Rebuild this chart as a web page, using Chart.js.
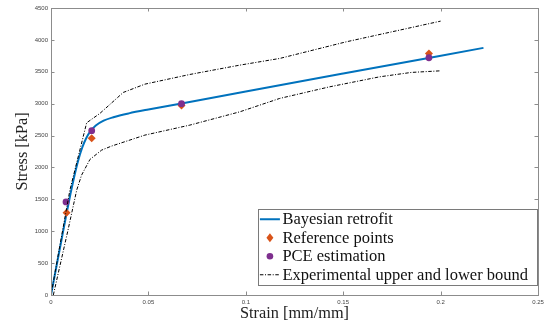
<!DOCTYPE html>
<html><head><meta charset="utf-8">
<script src="https://cdn.jsdelivr.net/npm/chart.js@4/dist/chart.umd.min.js"></script>
<style>html,body{margin:0;padding:0;background:#fff}#wrap{width:544px;height:325px;position:relative}</style>
</head><body><div id="wrap"><canvas id="c" width="544" height="325"></canvas></div>
<script>
// ---- data ----
const retrofitStrain = [0, 0.002, 0.004, 0.006, 0.008, 0.010, 0.012, 0.014, 0.016, 0.018, 0.020, 0.023, 0.027, 0.032, 0.040, 0.050, 0.067, 0.100, 0.150, 0.222];
const retrofitStress = [0, 321, 642, 963, 1279, 1585, 1867, 2113, 2309, 2454, 2557, 2656, 2733, 2787, 2848, 2909, 3004, 3191, 3472, 3875];
const refStrain = [0.008, 0.0209, 0.067, 0.194];
const refStress = [1290, 2457, 2970, 3787];
const pceStrain = [0.0077, 0.0209, 0.067, 0.194];
const pceStress = [1460, 2577, 3000, 3720];
const upperStrain = [0, 0.0097, 0.0183, 0.0251, 0.0371, 0.0482, 0.0713, 0.0969, 0.1174, 0.1516, 0.2];
const upperStress = [0, 1645, 2700, 2847, 3176, 3306, 3458, 3604, 3709, 3970, 4294];
const lowerStrain = [0.0012, 0.0086, 0.0132, 0.0157, 0.02, 0.026, 0.0311, 0.0482, 0.0713, 0.0969, 0.1174, 0.143, 0.1687, 0.185, 0.2];
const lowerStress = [0, 1000, 1645, 1880, 2126, 2272, 2335, 2507, 2664, 2872, 3082, 3264, 3421, 3490, 3515];
const xTicks = [0, 0.05, 0.1, 0.15, 0.2, 0.25];
const xTickLabels = ['0', '0.05', '0.1', '0.15', '0.2', '0.25'];
const yTicks = [0, 500, 1000, 1500, 2000, 2500, 3000, 3500, 4000, 4500];
const yTickLabels = ['0', '500', '1000', '1500', '2000', '2500', '3000', '3500', '4000', '4500'];
const legendLabels = ['Bayesian retrofit', 'Reference points', 'PCE estimation', 'Experimental upper and lower bound'];
const xTitle = 'Strain [mm/mm]';
const yTitle = 'Stress [kPa]';

const zip = (xs, ys) => xs.map((x, i) => ({x: x, y: ys[i]}));
const BLUE = '#0072BD', ORANGE = '#D95319', PURPLE = '#7E2F8E';
const SERIF = '"Liberation Serif", "Times New Roman", serif';
const DASH = [3.5, 1.6, 1, 1.6];

const framePlugin = {
  id: 'frame',
  afterDatasetsDraw(chart) {
    const {ctx, chartArea: a, scales} = chart;
    ctx.save();
    ctx.strokeStyle = '#8c8c8c';
    ctx.lineWidth = 1;
    ctx.strokeRect(Math.round(a.left) + 0.5, Math.round(a.top) + 0.5, Math.round(a.right - a.left), Math.round(a.bottom - a.top));
    const tl = 3.5;
    ctx.beginPath();
    scales.x.ticks.forEach(t => {
      const px = Math.round(scales.x.getPixelForValue(t.value)) + 0.5;
      ctx.moveTo(px, a.bottom); ctx.lineTo(px, a.bottom - tl);
      ctx.moveTo(px, a.top); ctx.lineTo(px, a.top + tl);
    });
    scales.y.ticks.forEach(t => {
      const py = Math.round(scales.y.getPixelForValue(t.value)) + 0.5;
      ctx.moveTo(a.left, py); ctx.lineTo(a.left + tl, py);
      ctx.moveTo(a.right, py); ctx.lineTo(a.right - tl, py);
    });
    ctx.stroke();

    // legend
    ctx.font = '16.5px ' + SERIF;
    const tw = Math.max(...legendLabels.map(s => ctx.measureText(s).width));
    const sample = 20, padL = 2, gap = 2.5, padR = 9, rowH = 18.5;
    const w = padL + sample + gap + tw + padR;
    const h = rowH * legendLabels.length + 2;
    const right = a.right - 1, bottom = a.bottom - 10;
    const left = right - w, top = bottom - h;
    ctx.fillStyle = '#fff';
    ctx.fillRect(left, top, w, h);
    ctx.strokeStyle = '#7a7a7a';
    ctx.strokeRect(Math.round(left) + 0.5, Math.round(top) + 0.5, Math.round(w), Math.round(h));
    ctx.textBaseline = 'middle';
    ctx.textAlign = 'left';
    legendLabels.forEach((lab, i) => {
      const cy = top + 1 + rowH * (i + 0.5);
      const sx = left + padL, ex = sx + sample, mx = (sx + ex) / 2;
      if (i === 0) {
        ctx.strokeStyle = BLUE; ctx.lineWidth = 2; ctx.setLineDash([]);
        ctx.beginPath(); ctx.moveTo(sx, cy); ctx.lineTo(ex, cy); ctx.stroke();
      } else if (i === 1) {
        ctx.fillStyle = ORANGE;
        ctx.beginPath(); ctx.moveTo(mx, cy - 4.5); ctx.lineTo(mx + 3.5, cy); ctx.lineTo(mx, cy + 4.5); ctx.lineTo(mx - 3.5, cy); ctx.closePath(); ctx.fill();
      } else if (i === 2) {
        ctx.fillStyle = PURPLE;
        ctx.beginPath(); ctx.arc(mx, cy, 3.3, 0, Math.PI * 2); ctx.fill();
      } else {
        ctx.strokeStyle = '#000'; ctx.lineWidth = 1; ctx.setLineDash(DASH);
        ctx.beginPath(); ctx.moveTo(sx, cy); ctx.lineTo(ex, cy); ctx.stroke();
        ctx.setLineDash([]);
      }
      ctx.fillStyle = '#111';
      ctx.fillText(lab, ex + gap, cy + 0.5);
    });
    ctx.restore();
  }
};

new Chart(document.getElementById('c'), {
  type: 'scatter',
  data: {
    datasets: [
      {label: legendLabels[3], data: zip(upperStrain, upperStress), showLine: true, borderColor: '#000', borderWidth: 1, borderDash: DASH, pointRadius: 0, order: 0},
      {label: legendLabels[3] + ' (lower)', data: zip(lowerStrain, lowerStress), showLine: true, borderColor: '#000', borderWidth: 1, borderDash: DASH, pointRadius: 0, order: 0},
      {label: legendLabels[2], data: zip(pceStrain, pceStress), showLine: false, pointStyle: 'circle', pointRadius: 3.4, backgroundColor: PURPLE, borderColor: PURPLE, borderWidth: 0, order: 1},
      {label: legendLabels[1], data: zip(refStrain, refStress), showLine: false, pointStyle: 'rectRot', pointRadius: 4, backgroundColor: ORANGE, borderColor: ORANGE, borderWidth: 0, order: 2},
      {label: legendLabels[0], data: zip(retrofitStrain, retrofitStress), showLine: true, borderColor: BLUE, borderWidth: 2, pointRadius: 0, cubicInterpolationMode: 'monotone', order: 3}
    ]
  },
  options: {
    responsive: false,
    animation: false,
    devicePixelRatio: 1,
    layout: {padding: {top: 8, right: 6, left: 0, bottom: 0}},
    plugins: {legend: {display: false}, tooltip: {enabled: false}},
    scales: {
      x: {
        type: 'linear', min: 0, max: 0.25,
        afterBuildTicks: s => { s.ticks = xTicks.map(v => ({value: v})); },
        afterFit: s => { s.height = 30; s.paddingLeft = 0; s.paddingRight = 0; },
        grid: {display: false, drawTicks: false},
        border: {display: false},
        ticks: {callback: (v, i) => xTickLabels[i], font: {family: '"Liberation Sans", Arial, sans-serif', size: 6}, color: '#444', padding: 4, maxRotation: 0, autoSkip: false},
        title: {display: true, text: xTitle, font: {family: SERIF, size: 16.3}, color: '#222', padding: {top: 0, bottom: 1.5}}
      },
      y: {
        type: 'linear', min: 0, max: 4500,
        afterBuildTicks: s => { s.ticks = yTicks.map(v => ({value: v})); },
        afterFit: s => { s.width = 51; s.paddingTop = 0; s.paddingBottom = 0; },
        grid: {display: false, drawTicks: false},
        border: {display: false},
        ticks: {callback: (v, i) => yTickLabels[i], font: {family: '"Liberation Sans", Arial, sans-serif', size: 6}, color: '#444', padding: 3, autoSkip: false},
        title: {display: true, text: yTitle, font: {family: SERIF, size: 16.3}, color: '#222', padding: {top: 13, bottom: 0}}
      }
    }
  },
  plugins: [framePlugin]
});
</script>
</body></html>
